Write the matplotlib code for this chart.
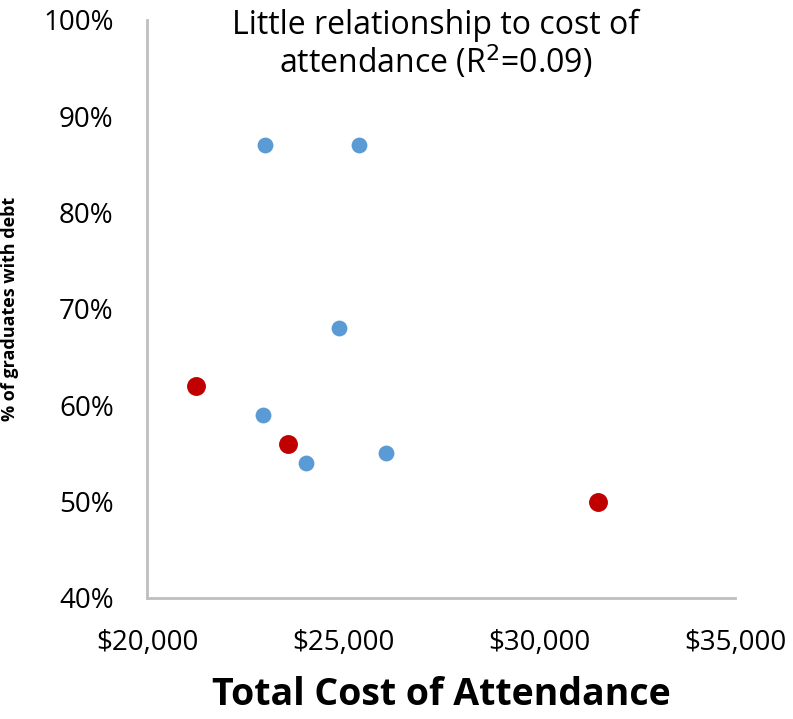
import matplotlib.pyplot as plt
from matplotlib.ticker import FuncFormatter

plt.rcParams["font.family"] = ["Open Sans", "DejaVu Sans"]

# Blue schools
blue_cost = [23000, 25400, 24900, 22950, 24050, 26100]
blue_debt = [87, 87, 68, 59, 54, 55]
# Red schools
red_cost = [21250, 23600, 31500]
red_debt = [62, 56, 50]

x_ticks = [20000, 25000, 30000, 35000]
y_ticks = [40, 50, 60, 70, 80, 90, 100]

fig = plt.figure(figsize=(7.93, 7.19), dpi=100)
ax = fig.add_axes([0.1854, 0.1683, 0.742, 0.804])

ax.scatter(blue_cost, blue_debt, s=130, color="#5B9BD5", linewidths=0, zorder=3)
ax.scatter(red_cost, red_debt, s=185, color="#C00000", linewidths=0, zorder=3)

ax.set_xlim(20000, 35000)
ax.set_ylim(40, 100)
ax.set_xticks(x_ticks)
ax.set_yticks(y_ticks)
ax.xaxis.set_major_formatter(FuncFormatter(lambda v, p: f"${v:,.0f}"))
ax.yaxis.set_major_formatter(FuncFormatter(lambda v, p: f"{v:.0f}%"))
ax.tick_params(length=0, labelsize=20)
ax.tick_params(axis="y", pad=24)
ax.tick_params(axis="x", pad=22)

for s in ["top", "right"]:
    ax.spines[s].set_visible(False)
for s in ["left", "bottom"]:
    ax.spines[s].set_color("#BFBFBF")
    ax.spines[s].set_linewidth(2)

ax.text(0.49, 1.02, "Little relationship to cost of\nattendance (R$^2$=0.09)",
        transform=ax.transAxes, ha="center", va="top", fontsize=23,
        linespacing=1.05)

ax.set_xlabel("Total Cost of Attendance", fontsize=27, fontweight="bold", labelpad=14)
ax.set_ylabel("% of graduates with debt", fontsize=13, fontweight="bold")
ax.yaxis.set_label_coords(-0.218, 0.5)

fig.savefig("out.png", dpi=100)
